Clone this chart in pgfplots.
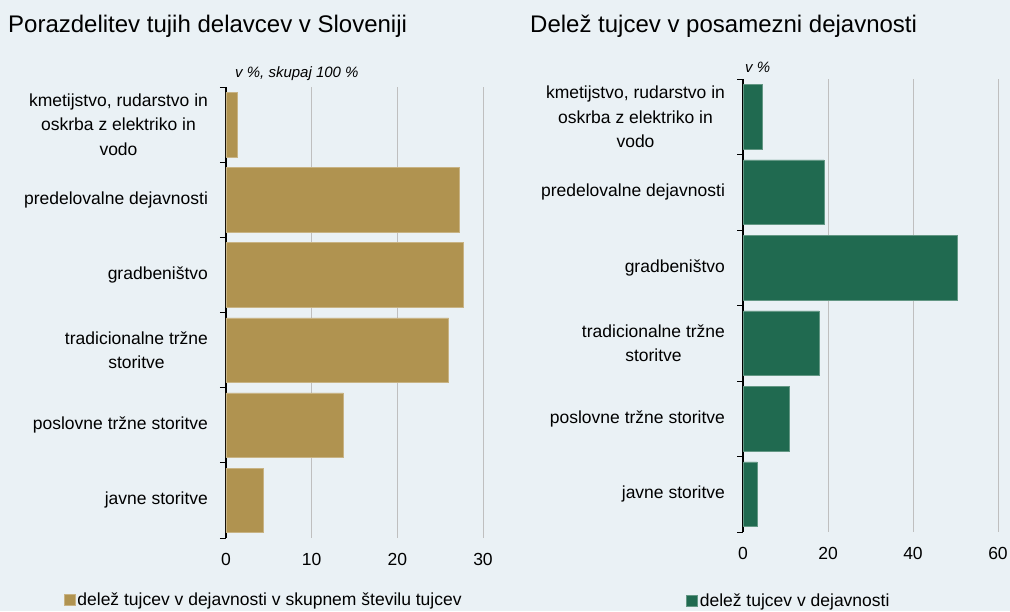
\documentclass[border=0pt]{standalone}
\usepackage{pgfplots}
\pgfplotsset{compat=1.18}
\usepackage{fontspec}
\setmainfont{Liberation Sans}
\definecolor{bg}{HTML}{EAF1F5}
\definecolor{gold}{HTML}{B09350}
\definecolor{dgreen}{HTML}{206A50}
\definecolor{gridc}{HTML}{BFBFBF}
\newcommand{\catfont}{\fontsize{17.5}{24.5}\selectfont}
\pgfplotsset{
  mystyle/.style={
    scale only axis, anchor=south west,
    xbar, bar width=0.86,
    ymin=-0.5, ymax=5.5, y dir=reverse,
    ytick={0,1,2,3,4,5},
    yticklabels={{kmetijstvo, rudarstvo in\\oskrba z elektriko in\\vodo},{predelovalne dejavnosti},{gradbeništvo},{tradicionalne tržne\\storitve},{poslovne tržne storitve},{javne storitve}},
    yticklabel style={align=center, font=\catfont, xshift=-14.5pt},
    xticklabel style={font=\fontsize{17.5}{20}\selectfont, yshift=-12pt},
    /pgf/number format/assume math mode=true,
    major tick length=0pt,
    minor ytick={-0.5,0.5,1.5,2.5,3.5,4.5,5.5},
    minor tick length=6pt, tick align=outside,
    tick style={black, line width=1pt},
    xmajorgrids, grid style={gridc, line width=0.9pt},
    axis y line*=left, axis x line*=bottom,
    x axis line style={draw=none},
    y axis line style={black, line width=1.3pt, -},
    legend style={draw=none, fill=none, font=\fontsize{17.5}{20}\selectfont, anchor=center, legend cell align=left, inner sep=0pt},
    legend image code/.code={\fill[##1] (0pt,-5.5pt) rectangle (11pt,5.5pt);},
  }
}
\begin{document}
\begin{tikzpicture}[x=1pt,y=1pt]
\useasboundingbox (0,0) rectangle (1010,611);
\fill[bg] (0,0) rectangle (1010,611);
\node[anchor=west, font=\fontsize{24}{28}\selectfont, inner sep=0pt] at (8,585) {Porazdelitev tujih delavcev v Sloveniji};
\node[anchor=west, font=\fontsize{24}{28}\selectfont, inner sep=0pt] at (530,585) {Delež tujcev v posamezni dejavnosti};
\node[anchor=west, font=\fontsize{15}{18}\selectfont\itshape, inner sep=0pt] at (235,537) {v \%, skupaj 100 \%};
\node[anchor=west, font=\fontsize{15}{18}\selectfont\itshape, inner sep=0pt] at (745,544) {v \%};
\begin{axis}[mystyle, at={(226pt,73pt)}, width=257pt, height=451pt,
  xmin=0, xmax=30, xtick={0,10,20,30},
  legend style={at={(0.147,-0.138)}}]
\addplot[fill=gold, draw=gold!70!white, line width=0.5pt] coordinates {(1.3,0) (27.2,1) (27.7,2) (26.0,3) (13.7,4) (4.3,5)};
\addlegendentry{delež tujcev v dejavnosti v skupnem številu tujcev}
\end{axis}
\begin{axis}[mystyle, at={(743pt,79pt)}, width=255pt, height=453pt,
  xmin=0, xmax=60, xtick={0,20,40,60},
  legend style={at={(0.18,-0.151)}}]
\addplot[fill=dgreen, draw=dgreen!70!white, line width=0.5pt] coordinates {(4.5,0) (19.0,1) (50.3,2) (17.9,3) (10.8,4) (3.3,5)};
\addlegendentry{delež tujcev v dejavnosti}
\end{axis}
\end{tikzpicture}
\end{document}
